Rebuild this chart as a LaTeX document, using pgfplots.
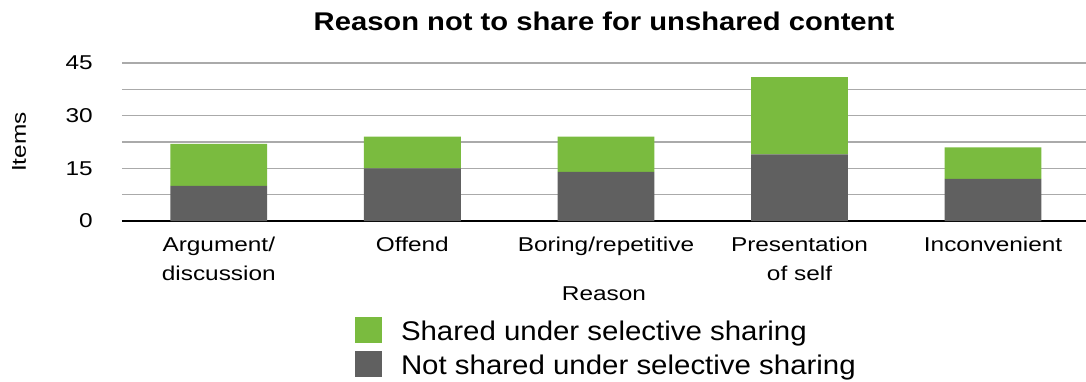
\documentclass[border=0pt]{standalone}
\usepackage{fontspec}
\setmainfont{Liberation Sans}
\newfontfamily\tickfont{Liberation Sans}[FakeStretch=1.22]
\newfontfamily\titlefont{Liberation Sans}[FakeStretch=1.14]
\newfontfamily\legfont{Liberation Sans}[FakeStretch=1.09]
\usepackage{pgfplots}
\pgfplotsset{compat=1.18}
\definecolor{sgreen}{HTML}{7ABB3F}
\definecolor{sgray}{HTML}{606060}
\definecolor{gridgray}{HTML}{AAAAAA}
\begin{document}
\begin{tikzpicture}
\begin{axis}[
  at={(0pt,0pt)}, anchor=south west,
  scale only axis, width=964pt, height=158pt,
  ybar stacked, bar width=0.5,
  xmin=-0.5, xmax=4.48, ymin=0, ymax=45,
  xtick={0,1,2,3,4},
  xticklabels={Argument/\\discussion, Offend, Boring/repetitive, Presentation\\of self, Inconvenient},
  ytick={0,15,30,45},
  minor ytick={7.5,22.5,37.5},
  ymajorgrids, yminorgrids,
  major grid style={draw=gridgray, line width=1.6pt},
  minor grid style={draw=gridgray, line width=1.6pt},
  axis x line=bottom, axis y line=left,
  x axis line style={-, black, line width=2.5pt},
  y axis line style={draw=none},
  major tick length=0pt, minor tick length=0pt,
  tick style={draw=none},
  /pgf/number format/assume math mode=true,
  xticklabel style={font=\tickfont\fontsize{20}{29}\selectfont, align=center, anchor=north, inner sep=0pt, yshift=-16pt},
  yticklabel style={font=\tickfont\fontsize{20}{24}\selectfont, anchor=east, inner sep=0pt, xshift=-29pt},
  xlabel={Reason}, ylabel={Items},
  xlabel style={font=\tickfont\fontsize{20}{24}\selectfont, at={(axis description cs:0.5,-0.459)}, anchor=center},
  ylabel style={font=\tickfont\fontsize{20}{24}\selectfont, at={(axis description cs:-0.1068,0.5)}, anchor=center},
  title={Reason not to share for unshared content},
  title style={font=\titlefont\bfseries\fontsize{25.6}{30}\selectfont, at={(axis description cs:0.5,1)}, anchor=base, yshift=27pt},
  legend style={draw=none, fill=none, at={(axis description cs:0.2417,-0.6076)}, anchor=north west,
    inner sep=0pt, outer sep=0pt, font=\legfont\fontsize{27}{32}\selectfont,
    row sep=8pt, column sep=19pt, nodes={inner sep=0pt}},
  legend cell align=left,
  reverse legend,
  every axis plot post/.append style={legend image code/.code={\fill[##1] (0pt,-11.4pt) rectangle (27pt,14.6pt);}},
]
\addplot[fill=sgray, draw=none] coordinates {(0,10) (1,15) (2,14) (3,19) (4,12)};
\addplot[fill=sgreen, draw=none] coordinates {(0,12) (1,9) (2,10) (3,22) (4,9)};
\legend{Not shared under selective sharing, Shared under selective sharing}
\end{axis}
\pgfresetboundingbox
\useasboundingbox (-122pt,-160pt) rectangle (964pt,221pt);
\end{tikzpicture}
\end{document}
